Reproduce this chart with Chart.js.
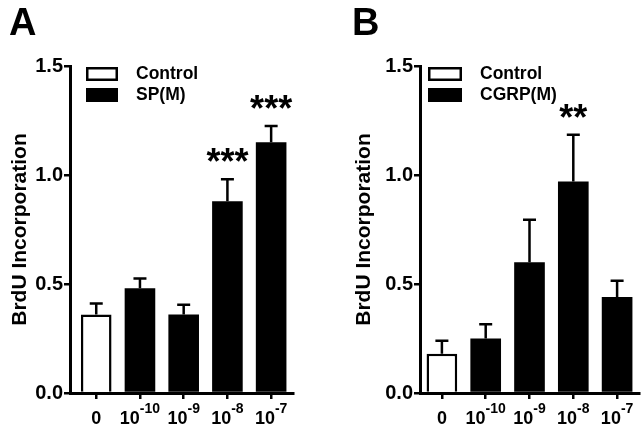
<!DOCTYPE html>
<html>
<head>
<meta charset="utf-8">
<script src="https://cdn.jsdelivr.net/npm/chart.js@4.4.1/dist/chart.umd.min.js"></script>
<style>
  html, body { margin: 0; padding: 0; background: #fff; }
  #wrap { position: relative; width: 642px; height: 433px; }
  canvas { position: absolute; top: 0; }
</style>
</head>
<body>
<div id="wrap">
  <canvas id="chartA" width="321" height="433" style="left:0"></canvas>
  <canvas id="chartB" width="321" height="433" style="left:321px"></canvas>
</div>
<script>
// x categories: "0" then 10^exp molar doses
const tickBase = ['0', '10', '10', '10', '10'];
const tickExp = ['', '-10', '-9', '-8', '-7'];
const yTicks = [0, 0.5, 1.0, 1.5];

// panel A - SP
const spMeans = [0.36, 0.48, 0.36, 0.88, 1.15];
const spErrors = [0.05, 0.045, 0.045, 0.10, 0.075];
const spStars = ['', '', '', '***', '***'];

// panel B - CGRP
const cgrpMeans = [0.18, 0.25, 0.60, 0.97, 0.44];
const cgrpErrors = [0.06, 0.065, 0.195, 0.215, 0.075];
const cgrpStars = ['', '', '', '**', ''];

const FONT = '"Liberation Sans", Arial, Helvetica, sans-serif';
Chart.defaults.font.family = FONT;
Chart.defaults.color = '#000';

// error bars, stars, x labels with superscripts, legend, panel letter
const extras = {
  id: 'extras',
  afterDatasetsDraw(chart, args, o) {
    const { ctx, scales: { x, y } } = chart;
    ctx.save();
    ctx.strokeStyle = '#000';
    ctx.fillStyle = '#000';
    ctx.lineWidth = 2.5;
    o.means.forEach((m, i) => {
      const px = x.getPixelForValue(i);
      const top = y.getPixelForValue(m);
      const et = y.getPixelForValue(m + o.errors[i]);
      ctx.beginPath();
      ctx.moveTo(px, top);
      ctx.lineTo(px, et);
      ctx.moveTo(px - 6.5, et);
      ctx.lineTo(px + 6.5, et);
      ctx.stroke();
      if (o.stars[i]) {
        ctx.font = 'bold 36px ' + FONT;
        ctx.textAlign = 'center';
        ctx.textBaseline = 'alphabetic';
        ctx.fillText(o.stars[i], px, et - 5);
      }
    });

    // x tick labels
    ctx.textAlign = 'left';
    ctx.textBaseline = 'alphabetic';
    const base = y.bottom + 31;
    tickBase.forEach((b, i) => {
      const px = x.getPixelForValue(i);
      ctx.font = 'bold 18px ' + FONT;
      const wb = ctx.measureText(b).width;
      ctx.font = 'bold 14px ' + FONT;
      const we = tickExp[i] ? ctx.measureText(tickExp[i]).width : 0;
      const start = px - (wb + we) / 2;
      ctx.font = 'bold 18px ' + FONT;
      ctx.fillText(b, start, base);
      if (tickExp[i]) {
        ctx.font = 'bold 14px ' + FONT;
        ctx.fillText(tickExp[i], start + wb, base - 11);
      }
    });
    ctx.restore();
  },
  afterDraw(chart, args, o) {
    const { ctx } = chart;
    ctx.save();
    ctx.fillStyle = '#000';
    ctx.strokeStyle = '#000';
    // panel letter
    ctx.font = 'bold 38px ' + FONT;
    ctx.textBaseline = 'alphabetic';
    ctx.textAlign = 'left';
    ctx.fillText(o.letter, o.letterX, 35);
    // legend
    ctx.font = 'bold 17.5px ' + FONT;
    ctx.textBaseline = 'middle';
    chart.data.datasets.forEach((ds, k) => {
      const by = 67 + k * 21;
      if (ds.backgroundColor === '#ffffff') {
        ctx.fillStyle = '#fff';
        ctx.fillRect(o.legendX, by, o.boxW, 14);
        ctx.lineWidth = 2.5;
        ctx.strokeRect(o.legendX + 1.25, by + 1.25, o.boxW - 2.5, 14 - 2.5);
      } else {
        ctx.fillStyle = '#000';
        ctx.fillRect(o.legendX, by, o.boxW, 14);
      }
      ctx.fillStyle = '#000';
      ctx.fillText(ds.label, o.legendX + o.boxW + 18, by + 7.5);
    });
    ctx.restore();
  }
};

function makePanel(canvasId, p) {
  const controlData = [{ x: 0, y: p.means[0] }];
  const treatData = p.means.slice(1).map((v, i) => ({ x: i + 1, y: v }));
  return new Chart(document.getElementById(canvasId), {
    type: 'bar',
    data: {
      datasets: [
        { label: 'Control', data: controlData, backgroundColor: '#ffffff', borderColor: '#000', borderWidth: 2.5 },
        { label: p.treatLabel, data: treatData, backgroundColor: '#000000', borderColor: '#000', borderWidth: 0 }
      ]
    },
    options: {
      responsive: false,
      animation: false,
      layout: { padding: { left: 0, right: p.padRight, top: 66, bottom: 0 } },
      datasets: { bar: { grouped: false, categoryPercentage: 1, barPercentage: 0.7 } },
      plugins: {
        legend: { display: false },
        tooltip: { enabled: false },
        extras: {
          means: p.means, errors: p.errors, stars: p.stars,
          letter: p.letter, letterX: p.letterX, legendX: p.legendX, boxW: p.boxW
        }
      },
      scales: {
        x: {
          type: 'linear',
          offset: false,
          min: p.xMin, max: p.xMax,
          afterBuildTicks: s => { s.ticks = tickBase.map((_, i) => ({ value: i })); },
          afterFit: s => { s.height = 40; },
          ticks: { display: false },
          grid: { offset: false, drawOnChartArea: false, drawTicks: true, tickLength: 6, color: '#000', lineWidth: 2.5 },
          border: { color: '#000', width: 3 }
        },
        y: {
          min: 0, max: 1.5,
          afterBuildTicks: s => { s.ticks = yTicks.map(v => ({ value: v })); },
          afterFit: s => { s.width = p.yWidth; },
          ticks: { font: { size: 20, weight: 'bold' }, color: '#000', padding: 1, callback: v => v.toFixed(1) },
          grid: { drawOnChartArea: false, drawTicks: true, tickLength: 6, color: '#000', lineWidth: 2.5 },
          border: { color: '#000', width: 3 },
          title: { display: true, text: 'BrdU Incorporation', font: { size: 21, weight: 'bold' }, color: '#000', padding: { top: p.titlePad, bottom: 0 } }
        }
      }
    },
    plugins: [extras]
  });
}

makePanel('chartA', {
  means: spMeans, errors: spErrors, stars: spStars, treatLabel: 'SP(M)',
  letter: 'A', letterX: 9, legendX: 86, boxW: 32,
  xMin: -0.6, xMax: 4.5, yWidth: 70, padRight: 28, titlePad: 8
});

makePanel('chartB', {
  means: cgrpMeans, errors: cgrpErrors, stars: cgrpStars, treatLabel: 'CGRP(M)',
  letter: 'B', letterX: 31, legendX: 107, boxW: 34,
  xMin: -0.5, xMax: 4.5, yWidth: 99, padRight: 3, titlePad: 31
});
</script>
</body>
</html>
